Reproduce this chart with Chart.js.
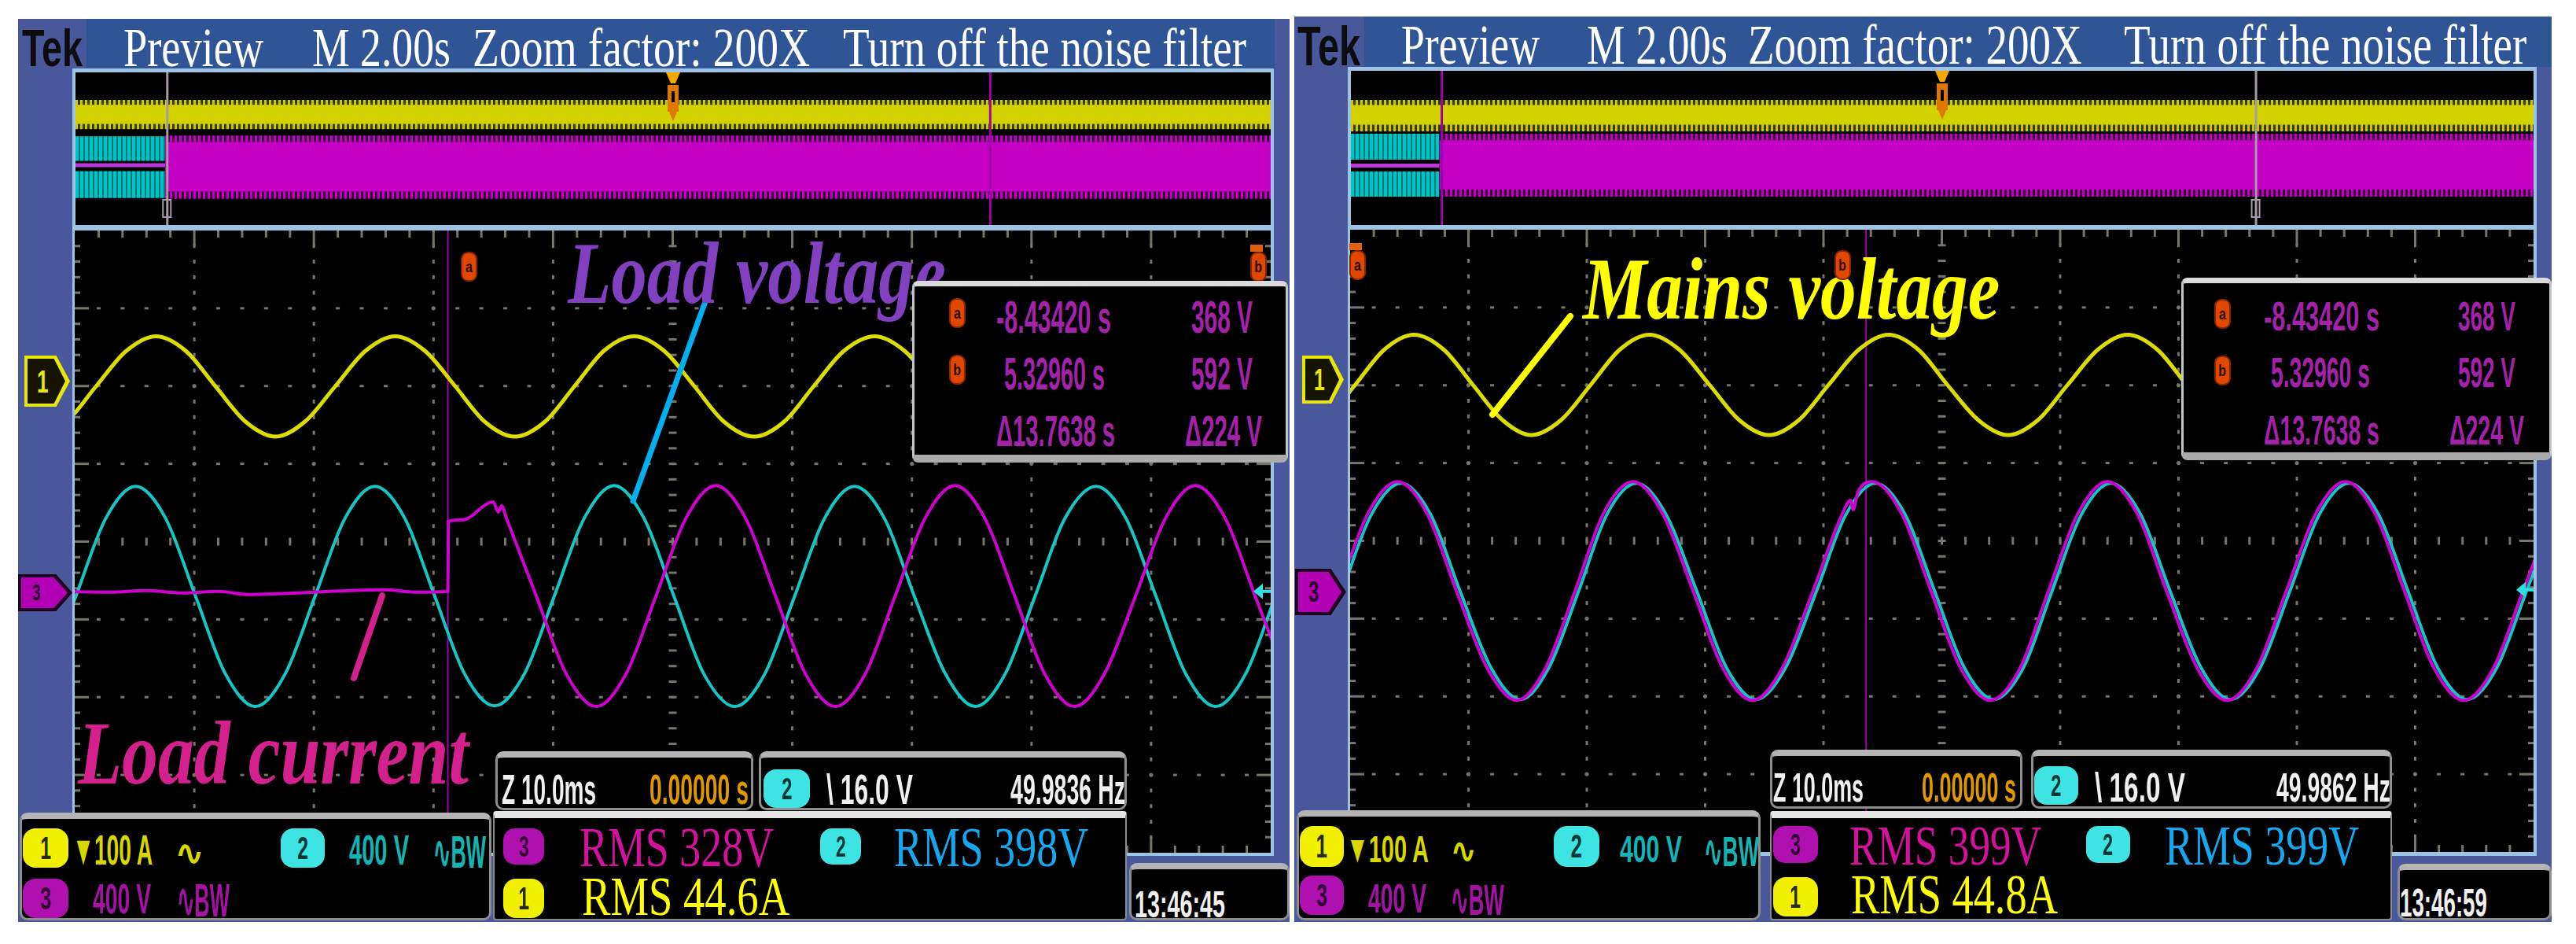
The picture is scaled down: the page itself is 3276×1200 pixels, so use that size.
<!DOCTYPE html>
<html>
<head>
<meta charset="utf-8">
<title>Tek preview - load transfer</title>
<script src="https://cdn.jsdelivr.net/npm/chart.js@4.4.1/dist/chart.umd.min.js"></script>
<style>
  body { margin: 0; width: 3276px; height: 1200px; background: #fff; position: relative; overflow: hidden; }
  .t { position: absolute; white-space: pre; line-height: 1; transform-origin: 0 0; }
  canvas { position: absolute; }
</style>
</head>
<body>
<script>
// ---- traces: x in ms (10 ms/div), y in divisions ----

// left shot (load transfer)
const leftYellowT = [-3.2, -0.7, 1.8, 4.3, 6.8, 9.3, 11.8, 14.3, 16.8, 19.3, 21.8, 24.3, 26.8, 29.3, 31.8, 34.3,
  36.8, 39.3, 41.8, 44.3, 46.8, 49.3, 51.8, 54.3, 56.8, 59.3, 61.8, 64.3, 66.9, 69.4, 71.9, 74.4];
const leftYellowV = [1.35, 1.54, 2.00, 2.45, 2.64, 2.45, 1.99, 1.54, 1.35, 1.55, 2.00, 2.45, 2.64, 2.45, 2.00, 1.54,
  1.35, 1.54, 2.00, 2.46, 2.64, 2.45, 2.00, 1.54, 1.35, 1.54, 2.00, 2.45, 2.64, 2.45, 2.00, 1.54];

const leftCyanT = [-4.9, -2.4, 0.1, 2.6, 5.1, 7.6, 10.1, 12.6, 15.1, 17.6, 20.1, 22.6, 25.1, 27.6, 30.1, 32.6,
  35.1, 37.6, 40.1, 42.6, 45.1, 47.6, 50.1, 52.6, 55.2, 57.7, 60.2, 62.7, 65.2, 67.7, 70.2, 72.8,
  75.3, 77.8, 80.3, 82.8, 85.4, 87.9, 90.4, 92.9, 95.4, 97.9, 100.4];
const leftCyanV = [-2.12, -1.70, -0.70, 0.30, 0.71, 0.30, -0.70, -1.70, -2.12, -1.70, -0.70, 0.30, 0.71, 0.30, -0.70, -1.70,
  -2.11, -1.70, -0.70, 0.30, 0.72, 0.30, -0.70, -1.70, -2.12, -1.70, -0.70, 0.30, 0.71, 0.30, -0.70, -1.70,
  -2.12, -1.70, -0.70, 0.30, 0.71, 0.30, -0.70, -1.70, -2.12, -1.70, -0.70];

const leftMagT = [-1, 3, 6, 9, 12, 14.5, 17, 20, 23, 26, 28.5, 31.2, 31.25, 32.4, 35.0, 35.4, 35.7,
  36.1, 38.6, 41.1, 43.6, 46.1, 48.6, 51.1, 53.6, 56.1, 58.6, 61.1, 63.6, 66.1, 68.6, 71.1, 73.6,
  76.1, 78.6, 81.1, 83.6, 86.1, 88.7, 91.2, 93.7, 96.2, 98.7, 101.2];
const leftMagV = [-0.64, -0.65, -0.63, -0.66, -0.64, -0.68, -0.67, -0.65, -0.63, -0.62, -0.65, -0.64, 0.26, 0.28, 0.51, 0.38, 0.46,
  0.30, -0.70, -1.70, -2.12, -1.70, -0.70, 0.30, 0.72, 0.30, -0.70, -1.70, -2.12, -1.70, -0.70, 0.30, 0.72,
  0.30, -0.70, -1.70, -2.12, -1.70, -0.70, 0.30, 0.72, 0.30, -0.70, -1.70];

// right shot (mains)
const rightYellowT = [-4.6, -2.1, 0.4, 2.9, 5.4, 7.9, 10.4, 12.9, 15.3, 17.8, 20.3, 22.8, 25.3, 27.8, 30.4, 32.9,
  35.4, 37.9, 40.4, 43.0, 45.5, 48.0, 50.5, 53.1, 55.6, 58.1, 60.6, 63.2, 65.7, 68.2, 70.7, 73.2, 75.7];
const rightYellowV = [1.36, 1.55, 2.00, 2.46, 2.65, 2.46, 2.00, 1.55, 1.36, 1.55, 2.00, 2.46, 2.65, 2.46, 2.00, 1.55,
  1.36, 1.55, 2.00, 2.46, 2.65, 2.46, 2.00, 1.55, 1.36, 1.55, 2.00, 2.46, 2.65, 2.46, 2.00, 1.55, 1.36];

const rightCyanT = [-5.7, -3.2, -0.7, 1.8, 4.3, 6.8, 9.3, 11.9, 14.4, 16.8, 19.3, 21.7, 24.2, 26.7, 29.3, 31.8,
  34.3, 36.8, 39.4, 41.9, 44.4, 46.9, 49.4, 51.9, 54.4, 56.9, 59.3, 61.8, 64.3, 66.8, 69.3, 71.9,
  74.4, 76.9, 79.4, 81.9, 84.4, 86.9, 89.4, 91.9, 94.4, 96.9, 99.4, 101.9];
const rightCyanV = [-2.04, -1.63, -0.65, 0.34, 0.74, 0.34, -0.65, -1.63, -2.04, -1.63, -0.65, 0.34, 0.74, 0.34, -0.65, -1.63,
  -2.04, -1.63, -0.65, 0.34, 0.74, 0.34, -0.65, -1.63, -2.04, -1.63, -0.65, 0.34, 0.74, 0.34, -0.65, -1.63,
  -2.04, -1.63, -0.65, 0.34, 0.74, 0.34, -0.65, -1.63, -2.04, -1.63, -0.65, 0.34];

const rightMagT = [-6.0, -3.5, -1.0, 1.5, 4.0, 6.5, 9.0, 11.6, 14.1, 16.5, 19.0, 21.4, 23.9, 26.4, 29.0, 31.5,
  34.0, 36.5, 39.1, 41.6, 42.3, 42.5, 42.9, 44.1, 46.6, 49.1, 51.6, 54.1, 56.6, 59.0, 61.5, 64.0, 66.5, 69.0, 71.6,
  74.1, 76.6, 79.1, 81.6, 84.1, 86.6, 89.1, 91.6, 94.1, 96.6, 99.1, 101.6];
const rightMagV = [-2.05, -1.64, -0.65, 0.35, 0.76, 0.35, -0.65, -1.64, -2.05, -1.64, -0.65, 0.35, 0.76, 0.35, -0.65, -1.64,
  -2.05, -1.64, -0.65, 0.35, 0.52, 0.40, 0.62, 0.76, 0.35, -0.65, -1.64, -2.05, -1.64, -0.65, 0.35, 0.76, 0.35, -0.65, -1.64,
  -2.05, -1.64, -0.65, 0.35, 0.76, 0.35, -0.65, -1.64, -2.05, -1.64, -0.65, 0.35];

const cursorMs = [31.2, 43.6];
const ch2Level = [-0.64, -0.63];

// preview strip: seconds (2 s/div) against divisions 0..8
const previewSpan = [0, 20];
const switchSec = [1.5, 1.5];
const leftYellowBand = [5.02, 5.3, 6.3, 6.56];      // outer lo, core lo, core hi, outer hi
const leftMagBand = [1.37, 1.75, 4.35, 4.69];
const leftCyanBands = [1.41, 2.82, 3.36, 4.65];     // lower lo/hi, upper lo/hi
const leftFlatBand = [3.03, 3.24];
const rightYellowBand = [4.86, 5.2, 6.22, 6.49];
const rightMagBand = [1.47, 1.85, 4.4, 4.73];
const rightCyanBands = [1.47, 2.78, 3.39, 4.73];
const rightFlatBand = [2.98, 3.18];
const grayCursorSec = [1.53, 15.3];
const magCursorSec = [15.3, 1.53];
const triggerSec = [10, 10];

// readouts
const headerText = ['Preview', 'M 2.00s', 'Zoom factor: 200X', 'Turn off the noise filter'];
const cursorRows = [['-8.43420 s', '368 V'], ['5.32960 s', '592 V'], ['\u039413.7638 s', '\u0394224 V']];
const rmsText = [['RMS 328V', 'RMS 398V', 'RMS 44.6A'], ['RMS 399V', 'RMS 399V', 'RMS 44.8A']];
const freqText = ['49.9836 Hz', '49.9862 Hz'];
const clockText = ['13:46:45', '13:46:59'];

const YEL = '#dcdc00', CYA = '#14c6c6', MAG = '#d000d0';
const BOX = 'background:#000;border:3px solid #8e8e8e;border-top:8px solid #b4b4b4;border-radius:10px;';
const RMSBOX = 'background:#000;border:2px solid #8a8a8a;border-top:9px solid #e4e4e4;border-radius:4px;';
const MEASBOX = 'background:#000;border:3px solid #c4c4c4;border-top:7px solid #dadada;border-bottom:10px solid #ababab;border-radius:8px;';

function rect(x, y, w, h, css) {
  const d = document.createElement('div');
  d.style.cssText = `position:absolute;left:${x}px;top:${y}px;width:${w}px;height:${h}px;box-sizing:border-box;` + (css || '');
  document.body.appendChild(d);
  return d;
}

const FONTS = {
  sans: ['"Liberation Sans", Arial, sans-serif', 0.716],
  serif: ['"Liberation Serif", "Times New Roman", serif', 0.662]
};

// text placed by cap top / baseline and squeezed to the width seen in the picture
function txt(s, x1, x2, top, base, color, fam, style) {
  fam = fam || 'sans';
  const [family, capR] = FONTS[fam];
  const size = (base - top) / capR;
  const weight = style !== undefined ? style : (fam === 'sans' ? 'bold' : '');
  const e = document.createElement('span');
  e.className = 't';
  e.textContent = s;
  e.style.font = `${weight} ${size.toFixed(1)}px ${family}`;
  e.style.color = color;
  e.style.left = x1 + 'px';
  e.style.top = (base - 0.84 * size).toFixed(1) + 'px';
  document.body.appendChild(e);
  const w = e.getBoundingClientRect().width;
  e.style.transform = `scaleX(${((x2 - x1) / w).toFixed(3)})`;
  return e;
}

function badge(x, y, w, h, n, bg, fg) {
  const d = rect(x, y, w, h, `background:${bg};border-radius:${Math.round(h * 0.32)}px;display:flex;align-items:center;justify-content:center;`);
  const s = document.createElement('span');
  s.textContent = n;
  s.style.cssText = `font:bold ${Math.round(h * 0.8)}px "Liberation Sans",sans-serif;color:${fg};line-height:1;transform:scaleX(0.62)`;
  d.appendChild(s);
}

function chanTag(x, y, w, h, n, edge, fill, fg) {
  const clip = 'clip-path:polygon(0 0,70% 0,100% 50%,70% 100%,0 100%);';
  rect(x, y, w, h, `background:${edge};` + clip);
  const d = rect(x + 4, y + 4, w - 10, h - 8, `background:${fill};display:flex;align-items:center;padding-left:${Math.round(w * 0.2)}px;` + clip);
  const s = document.createElement('span');
  s.textContent = n;
  s.style.cssText = `font:bold ${Math.round(h * 0.62)}px "Liberation Sans",sans-serif;color:${fg};line-height:1;transform:scaleX(0.65);transform-origin:0 50%`;
  d.appendChild(s);
}

function cursorIcon(x, y, ch) {
  const d = rect(x, y, 21, 38, 'background:#e04800;border:2px solid #8a2400;border-radius:9px;display:flex;align-items:center;justify-content:center;');
  const s = document.createElement('span');
  s.textContent = ch;
  s.style.cssText = 'font:bold 20px "Liberation Sans",sans-serif;color:#2a0a00;line-height:1;transform:scaleX(0.8)';
  d.appendChild(s);
}

function canvasAt(r) {
  const c = document.createElement('canvas');
  c.width = r[2];
  c.height = r[3];
  c.style.left = r[0] + 'px';
  c.style.top = r[1] + 'px';
  document.body.appendChild(c);
  return c;
}

// vertical striation used for the dense acquisition bands of the preview strip
function stripes(c1, c2, a, b) {
  const p = document.createElement('canvas');
  p.width = a + b;
  p.height = 4;
  const g = p.getContext('2d');
  g.fillStyle = c1;
  g.fillRect(0, 0, a, 4);
  g.fillStyle = c2;
  g.fillRect(a, 0, b, 4);
  return g.createPattern(p, 'repeat');
}

const pts = (t, v) => t.map((x, i) => ({ x: x, y: v[i] }));

// Tek graticule: dotted divisions, edge ticks, cursor, ch2 arrow, callout lines
const graticule = {
  id: 'graticule',
  beforeDatasetsDraw(chart, args, o) {
    const { ctx, chartArea: a, scales: { x, y } } = chart;
    ctx.save();
    ctx.fillStyle = '#000';
    ctx.fillRect(a.left, a.top, a.width, a.height);
    ctx.fillStyle = '#76766a';
    for (let i = 1; i < 10; i++) {
      const px = x.getPixelForValue(i * 10);
      for (let j = 1; j < 40; j++) {
        const py = y.getPixelForValue(-4 + j * 0.2);
        if (i === 5) ctx.fillRect(px - 5, py - 1.5, 10, 3);
        else ctx.fillRect(px - 1.5, py - 2.5, 3, 5);
      }
    }
    for (let j = 1; j < 8; j++) {
      const py = y.getPixelForValue(-4 + j);
      for (let i = 1; i < 50; i++) {
        const px = x.getPixelForValue(i * 2);
        if (j === 4) ctx.fillRect(px - 1.5, py - 5, 3, 10);
        else ctx.fillRect(px - 2.5, py - 1.5, 5, 3);
      }
    }
    for (let i = 1; i < 50; i++) {
      const px = x.getPixelForValue(i * 2);
      const len = i % 5 === 0 ? 20 : 9;
      ctx.fillRect(px - 1.5, a.top, 3, len);
      ctx.fillRect(px - 1.5, a.bottom - len, 3, len);
    }
    for (let j = 1; j < 40; j++) {
      const py = y.getPixelForValue(-4 + j * 0.2);
      const len = j % 5 === 0 ? 18 : 7;
      ctx.fillRect(a.left, py - 1.5, len, 3);
      ctx.fillRect(a.right - len, py - 1.5, len, 3);
    }
    const cx = x.getPixelForValue(o.cursor);
    ctx.fillStyle = '#a000a8';
    ctx.fillRect(cx - 1, a.top, 2, a.height);
    ctx.restore();
  },
  afterDatasetsDraw(chart, args, o) {
    const { ctx, chartArea: a, scales: { y } } = chart;
    const py = y.getPixelForValue(o.ch2);
    ctx.save();
    ctx.fillStyle = '#30e0e0';
    ctx.beginPath();
    ctx.moveTo(a.right - 22, py);
    ctx.lineTo(a.right - 10, py - 10);
    ctx.lineTo(a.right - 10, py + 10);
    ctx.closePath();
    ctx.fill();
    ctx.fillRect(a.right - 12, py - 2, 12, 4);
    ctx.restore();
  },
  afterDraw(chart, args, o) {
    const ctx = chart.ctx;
    ctx.save();
    ctx.lineCap = 'round';
    o.leaders.forEach(l => {
      ctx.strokeStyle = l[4];
      ctx.lineWidth = l[5];
      ctx.beginPath();
      ctx.moveTo(l[0] - o.origin[0], l[1] - o.origin[1]);
      ctx.lineTo(l[2] - o.origin[0], l[3] - o.origin[1]);
      ctx.stroke();
    });
    ctx.restore();
  }
};

const preview = {
  id: 'preview',
  beforeDatasetsDraw(chart) {
    const { ctx, chartArea: a } = chart;
    ctx.fillStyle = '#000';
    ctx.fillRect(a.left, a.top, a.width, a.height);
  },
  afterDatasetsDraw(chart, args, o) {
    const { ctx, chartArea: a, scales: { x } } = chart;
    ctx.save();
    const gx = x.getPixelForValue(o.gray);
    ctx.fillStyle = '#a69aa6';
    ctx.fillRect(gx - 1, a.top, 3, a.height);
    ctx.strokeStyle = '#a69aa6';
    ctx.lineWidth = 2;
    ctx.strokeRect(gx - 5, a.bottom - 32, 10, 22);
    const mx = x.getPixelForValue(o.mag);
    ctx.fillStyle = '#a000a8';
    ctx.fillRect(mx - 1, a.top, 3, a.height);
    const tx = x.getPixelForValue(o.trig);
    ctx.fillStyle = '#f4a800';
    ctx.beginPath();
    ctx.moveTo(tx - 9, a.top);
    ctx.lineTo(tx + 9, a.top);
    ctx.lineTo(tx + 3, a.top + 14);
    ctx.lineTo(tx - 3, a.top + 14);
    ctx.closePath();
    ctx.fill();
    ctx.fillStyle = '#e07800';
    ctx.fillRect(tx - 7, a.top + 16, 14, 34);
    ctx.beginPath();
    ctx.moveTo(tx - 5, a.top + 50);
    ctx.lineTo(tx + 5, a.top + 50);
    ctx.lineTo(tx, a.top + 62);
    ctx.closePath();
    ctx.fill();
    ctx.fillStyle = '#000';
    ctx.fillRect(tx - 2, a.top + 24, 4, 14);
    ctx.restore();
  }
};

function band(x0, x1, lo, hi, c) {
  return [
    { data: [{ x: x0, y: hi }, { x: x1, y: hi }], fill: '+1', backgroundColor: c, borderColor: 'transparent', borderWidth: 0, pointRadius: 0 },
    { data: [{ x: x0, y: lo }, { x: x1, y: lo }], fill: false, borderColor: 'transparent', borderWidth: 0, pointRadius: 0 }
  ];
}

function panel(P) {
  rect(...P.frame, 'background:#48589a');
  rect(...P.head, 'background:#2f5597');
  txt('Tek', P.tek[0], P.tek[1], P.tek[2], P.tek[3], '#0c0c0c', 'sans', 'bold');
  headerText.forEach((s, i) => txt(s, P.headX[i][0], P.headX[i][1], P.headY[0], P.headY[1], '#fff', 'serif'));
  rect(...P.border, 'background:#9cc2e4');

  const sw = P.switchAt, x0 = previewSpan[0], x1 = previewSpan[1];
  // first dataset ends up on top, so cores come before their striped fringes
  new Chart(canvasAt(P.ov), {
    type: 'line',
    data: {
      datasets: [].concat(
        band(x0, sw, P.fb[0], P.fb[1], '#b838d8'),
        band(x0, sw, P.cb[0], P.cb[1], stripes('#00c4c4', '#007878', 4, 2)),
        band(x0, sw, P.cb[2], P.cb[3], stripes('#00c4c4', '#007878', 4, 2)),
        band(sw, x1, P.mb[1], P.mb[2], '#c400c4'),
        band(sw, x1, P.mb[0], P.mb[3], stripes('#c000c0', '#3a003a', 3, 3)),
        band(x0, x1, P.yb[1], P.yb[2], '#d2d200'),
        band(x0, x1, P.yb[0], P.yb[3], stripes('#c8c800', '#3a3a00', 3, 3))
      )
    },
    options: {
      responsive: false, animation: false, events: [],
      layout: { padding: 0 },
      plugins: { legend: { display: false }, tooltip: { enabled: false },
        preview: { gray: P.gray, mag: P.magCur, trig: P.trig } },
      scales: { x: { type: 'linear', min: x0, max: x1, display: false },
                y: { min: 0, max: 8, display: false } }
    },
    plugins: [preview]
  });

  new Chart(canvasAt(P.main), {
    type: 'line',
    data: {
      datasets: P.series.map(s => ({
        data: pts(s[0], s[1]), borderColor: s[2], borderWidth: s[3], pointRadius: 0,
        cubicInterpolationMode: 'monotone', fill: false
      }))
    },
    options: {
      responsive: false, animation: false, events: [],
      layout: { padding: 0 },
      plugins: { legend: { display: false }, tooltip: { enabled: false },
        graticule: { cursor: P.cursor, ch2: P.ch2, leaders: P.leaders, origin: [P.main[0], P.main[1]] } },
      scales: { x: { type: 'linear', min: 0, max: 100, display: false },
                y: { min: -4, max: 4, display: false } }
    },
    plugins: [graticule]
  });

  chanTag(...P.tag1, '1', '#e8e800', '#141400', '#e8e800');
  chanTag(...P.tag3, '3', '#200020', '#b400b4', '#2a002a');
  P.labels.forEach(l => txt(l[0], l[1], l[2], l[3], l[4], l[5], 'serif', 'italic bold'));
  P.icons.forEach(c => cursorIcon(c[0], c[1], c[2]));
  rect(P.sq[0], P.sq[1], 16, 9, 'background:#e06010;');

  rect(...P.meas, MEASBOX);
  cursorIcon(P.measIcon[0], P.measRowY[0][0] + 2, 'a');
  cursorIcon(P.measIcon[0], P.measRowY[1][0] + 2, 'b');
  cursorRows.forEach((r, i) => {
    const [t1, t2, v1, v2] = P.measX[i];
    txt(r[0], t1, t2, P.measRowY[i][0], P.measRowY[i][1], '#a422aa');
    txt(r[1], v1, v2, P.measRowY[i][0], P.measRowY[i][1], '#a422aa');
  });
}

// ---------- left shot ----------
panel({
  frame: [23, 24, 1617, 1148], head: [110, 24, 1511, 63], tek: [28, 105, 30, 78],
  headX: [[157, 335], [397, 573], [601, 1030], [1072, 1585]], headY: [33, 79],
  border: [92, 87, 1528, 1001], ov: [96, 92, 1520, 194], main: [95, 293, 1521, 791],
  switchAt: switchSec[0], yb: leftYellowBand, mb: leftMagBand, cb: leftCyanBands, fb: leftFlatBand,
  gray: grayCursorSec[0], magCur: magCursorSec[0], trig: triggerSec[0],
  series: [[leftMagT, leftMagV, MAG, 4], [leftCyanT, leftCyanV, CYA, 4], [leftYellowT, leftYellowV, YEL, 5]],
  cursor: cursorMs[0], ch2: ch2Level[0],
  leaders: [[900, 375, 805, 637, '#00b0f0', 7], [486, 757, 450, 862, '#d4208c', 8]],
  labels: [['Load voltage', 722, 1203, 303, 377, '#8040c0'], ['Load current', 99, 596, 913, 988, '#d4208c']],
  tag1: [31, 452, 58, 65], tag3: [23, 730, 69, 47],
  icons: [[586, 320, 'a'], [1590, 320, 'b']], sq: [1590, 311],
  meas: [1160, 357, 478, 231], measIcon: [1207],
  measRowY: [[377, 418], [449, 490], [522, 562]],
  measX: [[1267, 1413, 1515, 1593], [1277, 1405, 1515, 1593], [1267, 1418, 1507, 1605]]
});

rect(25, 1033, 600, 137, BOX);
badge(29, 1053, 58, 50, '1', '#f0f000', '#2a2a00');
txt('\u25BC100 A', 92, 194, 1057, 1095, '#d8d800');
txt('\u223F', 223, 259, 1064, 1095, '#d8d800');
badge(357, 1053, 56, 50, '2', '#3ee4e4', '#003838');
txt('400 V', 444, 520, 1057, 1095, '#14b4b4');
txt('\u223FBW', 551, 618, 1057, 1098, '#14b4b4');
badge(29, 1117, 58, 50, '3', '#b010b0', '#300030');
txt('400 V', 118, 192, 1118, 1157, '#a412a4');
txt('\u223FBW', 225, 292, 1118, 1160, '#a412a4');

rect(630, 955, 328, 75, BOX);
txt('Z 10.0ms', 638, 758, 980, 1018, '#f0f0f0');
txt('0.00000 s', 826, 952, 980, 1018, '#e09800');
rect(965, 955, 468, 75, BOX);
badge(971, 978, 59, 49, '2', '#3ee4e4', '#003838');
txt('\\ 16.0 V', 1051, 1161, 980, 1018, '#f0f0f0');
txt(freqText[0], 1285, 1431, 980, 1018, '#f0f0f0');

rect(627, 1031, 806, 139, RMSBOX);
badge(640, 1053, 52, 46, '3', '#b010b0', '#300030');
txt(rmsText[0][0], 737, 984, 1050, 1097, '#d4109c', 'serif');
badge(1043, 1053, 52, 46, '2', '#3ee4e4', '#003838');
txt(rmsText[0][1], 1137, 1384, 1050, 1097, '#14a8f0', 'serif');
badge(640, 1117, 52, 50, '1', '#f0f000', '#2a2a00');
txt(rmsText[0][2], 740, 1004, 1112, 1158, '#ffff00', 'serif');
rect(1436, 1097, 204, 73, BOX);
txt(clockText[0], 1443, 1558, 1127, 1162, '#f0f0f0');

// ---------- right shot ----------
panel({
  frame: [1646, 21, 1599, 1151], head: [1735, 21, 1510, 64], tek: [1650, 1730, 28, 78],
  headX: [[1782, 1958], [2018, 2197], [2223, 2648], [2701, 3213]], headY: [30, 77],
  border: [1714, 85, 1512, 1003], ov: [1718, 90, 1504, 196], main: [1717, 292, 1505, 791],
  switchAt: switchSec[1], yb: rightYellowBand, mb: rightMagBand, cb: rightCyanBands, fb: rightFlatBand,
  gray: grayCursorSec[1], magCur: magCursorSec[1], trig: triggerSec[1],
  series: [[rightMagT, rightMagV, MAG, 4], [rightCyanT, rightCyanV, CYA, 4], [rightYellowT, rightYellowV, YEL, 5]],
  cursor: cursorMs[1], ch2: ch2Level[1],
  leaders: [[1997, 402, 1898, 527, '#ffff00', 8]],
  labels: [['Mains voltage', 2013, 2543, 323, 397, '#ffff00']],
  tag1: [1656, 452, 53, 61], tag3: [1647, 723, 65, 59],
  icons: [[1716, 318, 'a'], [2333, 318, 'b']], sq: [1716, 309],
  meas: [2774, 353, 471, 232], measIcon: [2816],
  measRowY: [[378, 415], [450, 488], [523, 560]],
  measX: [[2879, 3026, 3126, 3199], [2888, 3014, 3126, 3199], [2879, 3026, 3115, 3210]]
});

rect(1649, 1030, 590, 140, BOX);
badge(1653, 1050, 56, 52, '1', '#f0f000', '#2a2a00');
txt('\u25BC100 A', 1712, 1817, 1057, 1092, '#d8d800');
txt('\u223F', 1845, 1877, 1062, 1092, '#d8d800');
badge(1976, 1050, 58, 52, '2', '#3ee4e4', '#003838');
txt('400 V', 2060, 2139, 1057, 1092, '#14b4b4');
txt('\u223FBW', 2167, 2237, 1057, 1096, '#14b4b4');
badge(1653, 1113, 56, 50, '3', '#b010b0', '#300030');
txt('400 V', 1740, 1814, 1118, 1155, '#a412a4');
txt('\u223FBW', 1845, 1913, 1118, 1158, '#a412a4');

rect(2251, 953, 321, 75, BOX);
txt('Z 10.0ms', 2255, 2370, 977, 1014, '#f0f0f0');
txt('0.00000 s', 2444, 2564, 977, 1014, '#e09800');
rect(2583, 953, 459, 75, BOX);
badge(2587, 974, 56, 49, '2', '#3ee4e4', '#003838');
txt('\\ 16.0 V', 2664, 2779, 977, 1014, '#f0f0f0');
txt(freqText[1], 2895, 3040, 977, 1014, '#f0f0f0');

rect(2251, 1031, 791, 139, RMSBOX);
badge(2255, 1050, 57, 47, '3', '#b010b0', '#300030');
txt(rmsText[1][0], 2352, 2596, 1048, 1095, '#d4109c', 'serif');
badge(2653, 1050, 56, 47, '2', '#3ee4e4', '#003838');
txt(rmsText[1][1], 2753, 3000, 1048, 1095, '#14a8f0', 'serif');
badge(2255, 1115, 57, 50, '1', '#f0f000', '#2a2a00');
txt(rmsText[1][2], 2354, 2617, 1110, 1157, '#ffff00', 'serif');
rect(3049, 1098, 196, 72, BOX);
txt(clockText[1], 3052, 3163, 1124, 1160, '#f0f0f0');
</script>
</body>
</html>
